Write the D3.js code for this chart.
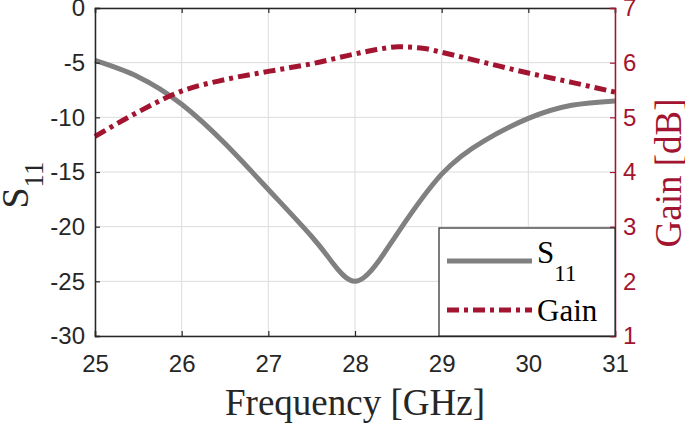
<!DOCTYPE html>
<html><head><meta charset="utf-8">
<script src="https://cdn.jsdelivr.net/npm/d3@7"></script>
<style>body{margin:0;background:#fff}svg{display:block}</style>
</head><body>
<svg id="c" width="685" height="426"></svg>
<script>
const freqS11 = [25, 25.5, 26, 26.5, 27, 27.5, 27.75, 28, 28.25, 28.5, 29, 29.5, 30, 30.5, 31];
const s11 = [-4.8, -6.3, -8.8, -12.4, -16.6, -20.9, -23.4, -25, -23.4, -20.5, -15.2, -12.1, -10.1, -8.9, -8.5];
const freqGain = [25, 25.5, 26, 26.5, 27, 27.5, 28, 28.25, 28.5, 28.8, 29, 29.5, 30, 30.5, 31];
const gain = [4.65, 5.1, 5.48, 5.69, 5.84, 5.98, 6.16, 6.24, 6.29, 6.26, 6.19, 6.0, 5.81, 5.64, 5.46];
const xTicks = [25, 26, 27, 28, 29, 30, 31];
const yLeftTicks = [0, -5, -10, -15, -20, -25, -30];
const yRightTicks = [1, 2, 3, 4, 5, 6, 7];

const L = 95, R = 615, T = 8, B = 336;
const red = "#A2142F", axisCol = "#262626";
const svg = d3.select("#c");
const x = d3.scaleLinear().domain([25, 31]).range([L, R]);
const yL = d3.scaleLinear().domain([-30, 0]).range([B, T]);
const yR = d3.scaleLinear().domain([1, 7]).range([B, T]);
const fmt = d => String(d);

// grid
const g = svg.append("g");
g.selectAll(".gx").data(xTicks).join("line")
  .attr("x1", d => x(d)).attr("x2", d => x(d)).attr("y1", T).attr("y2", B)
  .attr("stroke", "#dcdcdc").attr("stroke-width", 1);
g.selectAll(".gy").data(yLeftTicks).join("line")
  .attr("x1", L).attr("x2", R).attr("y1", d => yL(d)).attr("y2", d => yL(d))
  .attr("stroke", "#dcdcdc").attr("stroke-width", 1);

// lines
const lineS = d3.line().x((d, i) => x(freqS11[i])).y(d => yL(d)).curve(d3.curveNatural);
const lineG = d3.line().x((d, i) => x(freqGain[i])).y(d => yR(d)).curve(d3.curveMonotoneX);
svg.append("path").attr("d", lineS(s11)).attr("fill", "none")
  .attr("stroke", "#808080").attr("stroke-width", 5);
svg.append("path").attr("d", lineG(gain)).attr("fill", "none")
  .attr("stroke", red).attr("stroke-width", 5).attr("stroke-dasharray", "12,5,4,5");

// axes
const tickFont = "Liberation Sans, Arial, sans-serif";
const axB = svg.append("g").attr("transform", `translate(0,${B})`)
  .call(d3.axisBottom(x).tickValues(xTicks).tickSize(-5).tickPadding(19).tickFormat(fmt));
const axT = svg.append("g").attr("transform", `translate(0,${T})`)
  .call(d3.axisTop(x).tickValues(xTicks).tickSize(-5).tickFormat(""));
const axL = svg.append("g").attr("transform", `translate(${L},0)`)
  .call(d3.axisLeft(yL).tickValues(yLeftTicks).tickSize(-5).tickPadding(10).tickFormat(fmt));
const axR = svg.append("g").attr("transform", `translate(${R},0)`)
  .call(d3.axisRight(yR).tickValues(yRightTicks).tickSize(-5).tickPadding(8).tickFormat(fmt));
[axB, axT, axL].forEach(a => {
  a.select(".domain").attr("stroke", axisCol).attr("stroke-width", 1.5);
  a.selectAll(".tick line").attr("stroke", axisCol).attr("stroke-width", 1.2);
  a.selectAll("text").attr("fill", axisCol).style("font-family", tickFont).style("font-size", "24px");
});
axR.select(".domain").attr("stroke", red).attr("stroke-width", 1.5);
axR.selectAll(".tick line").attr("stroke", red).attr("stroke-width", 1.2);
axR.selectAll("text").attr("fill", red).style("font-family", tickFont).style("font-size", "24px");

// axis labels
const serif = "Liberation Serif, Times New Roman, serif";
svg.append("text").attr("x", (L + R) / 2).attr("y", 415).attr("text-anchor", "middle")
  .style("font-family", serif).style("font-size", "37px").attr("fill", axisCol).text("Frequency [GHz]");
const yl = svg.append("text").attr("transform", "translate(28,185) rotate(-90)").attr("text-anchor", "middle")
  .style("font-family", serif).attr("fill", axisCol);
yl.append("tspan").style("font-size", "38px").text("S");
yl.append("tspan").style("font-size", "27px").attr("dy", 15).text("11");
svg.append("text").attr("transform", "translate(681,173) rotate(-90)").attr("text-anchor", "middle")
  .style("font-family", serif).style("font-size", "37px").attr("fill", red).text("Gain [dB]");

// legend
const lg = svg.append("g");
lg.append("rect").attr("x", 439).attr("y", 228).attr("width", R - 439).attr("height", B - 228)
  .attr("fill", "#fff").attr("stroke", axisCol).attr("stroke-width", 1.2);
lg.append("line").attr("x1", 447).attr("x2", 532).attr("y1", 261).attr("y2", 261)
  .attr("stroke", "#808080").attr("stroke-width", 5);
lg.append("line").attr("x1", 447).attr("x2", 532).attr("y1", 310).attr("y2", 310)
  .attr("stroke", red).attr("stroke-width", 5).attr("stroke-dasharray", "12,5,4,5");
const t1 = lg.append("text").attr("x", 537).attr("y", 263).style("font-family", serif).attr("fill", "#000");
t1.append("tspan").style("font-size", "31px").text("S");
t1.append("tspan").style("font-size", "23px").attr("dy", 18).text("11");
lg.append("text").attr("x", 537).attr("y", 321).style("font-family", serif).style("font-size", "31px")
  .attr("fill", "#000").text("Gain");
</script>
</body></html>
